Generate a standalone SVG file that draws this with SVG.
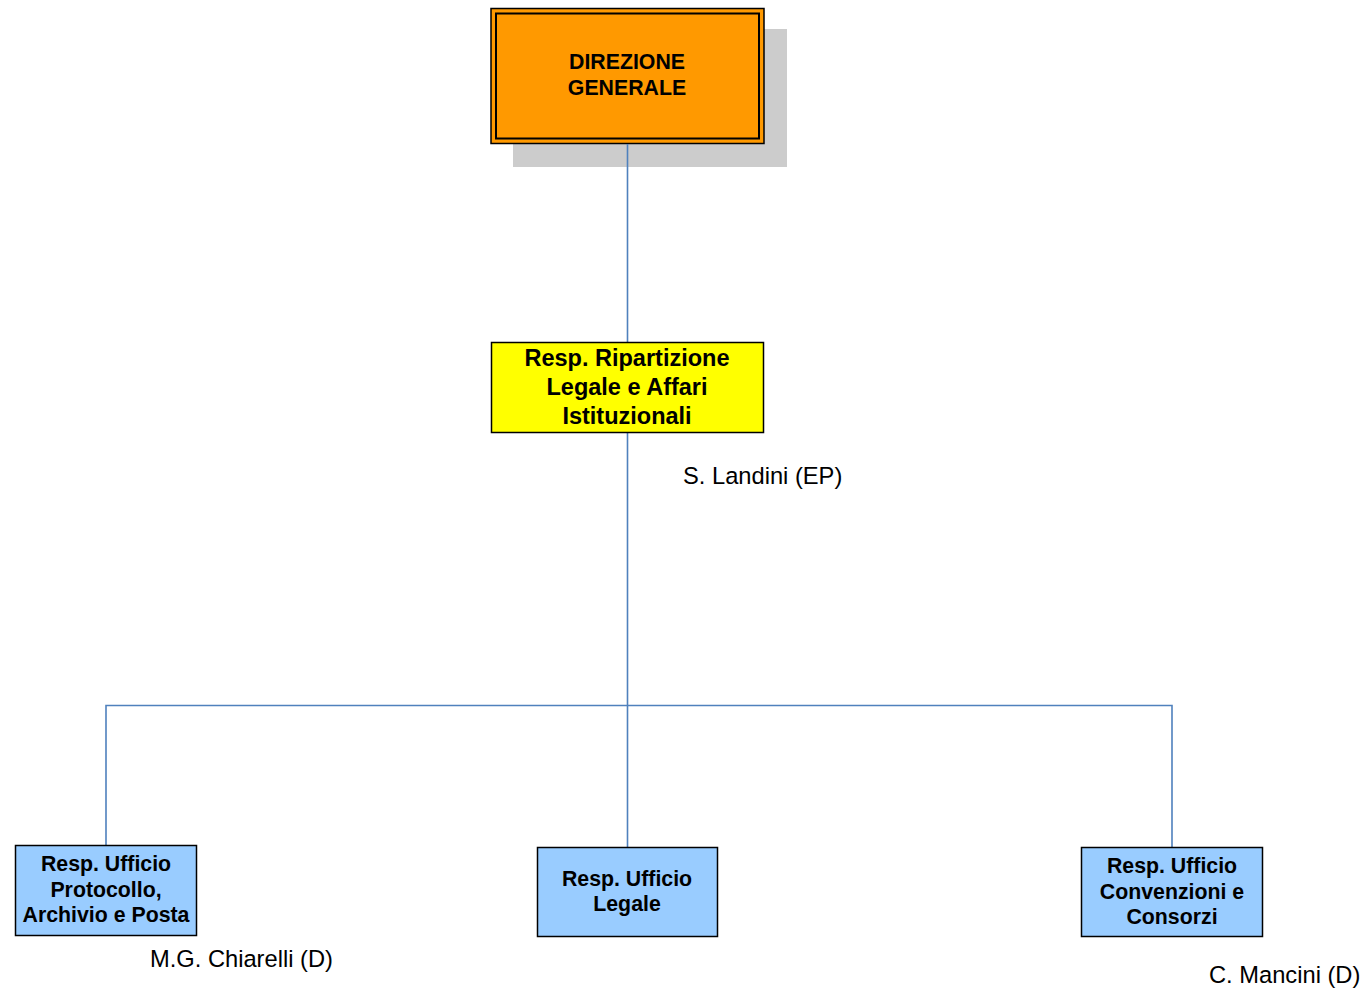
<svg xmlns="http://www.w3.org/2000/svg" width="1370" height="993" viewBox="0 0 1370 993">
<style>
.b{font-family:"Liberation Sans",Arial,sans-serif;font-weight:bold;fill:#000;text-anchor:middle}
.n{font-family:"Liberation Sans",Arial,sans-serif;fill:#000;font-size:23.7px}
.c{stroke:#4F81BD;stroke-width:1.6;fill:none}
.blue{fill:#99CCFF;stroke:#000;stroke-width:1.5}
</style>
<rect width="1370" height="993" fill="#fff"/>
<g id="direzione">
<rect x="513" y="29" width="274" height="138" fill="#CCCCCC"/>
<rect x="491" y="8.5" width="273" height="135" fill="#FF9900" stroke="#000" stroke-width="1.5"/>
<rect x="496" y="13.5" width="263" height="125" fill="none" stroke="#000" stroke-width="2"/>
<text class="b" font-size="21.3" x="627" y="69">DIREZIONE</text>
<text class="b" font-size="21.3" x="627" y="95">GENERALE</text>
</g>
<g id="connectors">
<line class="c" x1="627.5" y1="144" x2="627.5" y2="342"/>
<line class="c" x1="627.5" y1="433" x2="627.5" y2="847"/>
<polyline class="c" points="106,845 106,705.5 1172,705.5 1172,847"/>
</g>
<g id="ripartizione">
<rect x="491.5" y="342.5" width="272" height="90" fill="#FFFF00" stroke="#000" stroke-width="1.5"/>
<text class="b" font-size="23.5" x="627" y="366">Resp. Ripartizione</text>
<text class="b" font-size="23.5" x="627" y="395">Legale e Affari</text>
<text class="b" font-size="23.5" x="627" y="424">Istituzionali</text>
</g>
<text class="n" x="683" y="484">S. Landini (EP)</text>
<g id="protocollo">
<rect class="blue" x="15.5" y="845.5" width="181" height="90"/>
<text class="b" font-size="21.3" x="106" y="871">Resp. Ufficio</text>
<text class="b" font-size="21.3" x="106" y="897">Protocollo,</text>
<text class="b" font-size="21.3" x="106" y="922">Archivio e Posta</text>
</g>
<text class="n" x="150" y="967">M.G. Chiarelli (D)</text>
<g id="legale">
<rect class="blue" x="537.5" y="847.5" width="180" height="89"/>
<text class="b" font-size="21.3" x="627" y="886">Resp. Ufficio</text>
<text class="b" font-size="21.3" x="627" y="911">Legale</text>
</g>
<g id="convenzioni">
<rect class="blue" x="1081.5" y="847.5" width="181" height="89"/>
<text class="b" font-size="21.3" x="1172" y="873">Resp. Ufficio</text>
<text class="b" font-size="21.3" x="1172" y="899">Convenzioni e</text>
<text class="b" font-size="21.3" x="1172" y="924">Consorzi</text>
</g>
<text class="n" x="1209" y="983">C. Mancini (D)</text>
</svg>
